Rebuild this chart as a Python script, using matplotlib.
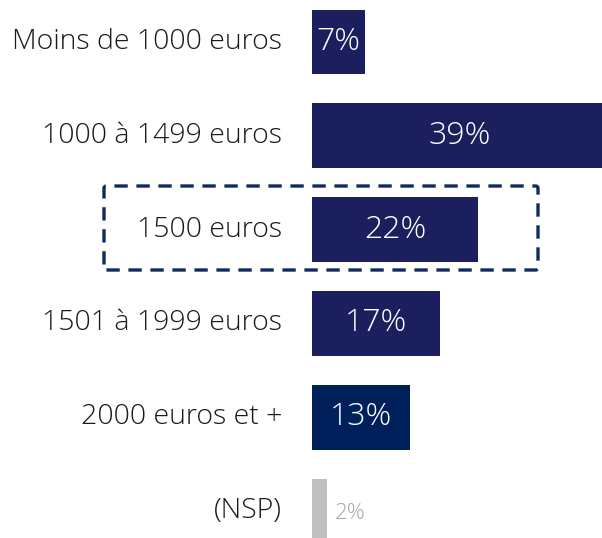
import matplotlib.pyplot as plt
from matplotlib.patches import FancyBboxPatch

# Data
categories = ["Moins de 1000 euros", "1000 à 1499 euros", "1500 euros",
              "1501 à 1999 euros", "2000 euros et +", "(NSP)"]
values = [7, 39, 22, 17, 13, 2]
bar_colors = ["#1B1F5E", "#1B1F5E", "#1B1F5E", "#1B1F5E", "#00205B", "#BFBFBF"]

plt.rcParams["font.family"] = ["Open Sans", "DejaVu Sans"]

W, H = 602, 538
fig = plt.figure(figsize=(W / 100, H / 100), dpi=100)
ax = fig.add_axes([312 / W, 0, 1 - 312 / W, 1])

y = list(range(len(categories)))
ax.barh(y, values, height=0.69, color=bar_colors)
ax.set_xlim(0, 38.4)
ax.set_ylim(5.287, -0.447)
ax.axis("off")

# Value labels
for i, v in enumerate(values):
    if v >= 5:
        ax.text(v / 2, i, f"{v}%", color="white", fontsize=23, fontweight="light",
                ha="center", va="center")
    else:
        ax.text(v + 1.0, i + 0.03, f"{v}%", color="#A6A6A6", fontsize=16,
                fontweight="light", ha="left", va="center")

# Category labels
for i, c in enumerate(categories):
    ax.annotate(c, xy=(0, i), xycoords="data", xytext=(-30, 0),
                textcoords="offset pixels", ha="right", va="center",
                fontsize=20.5, fontweight="light", color="#1A1A1A")

# Dashed highlight box around "1500 euros"
box = FancyBboxPatch((104 / W, 1 - 270 / H), (538 - 104) / W, (270 - 186) / H,
                     boxstyle="round,pad=0,rounding_size=0.004",
                     transform=fig.transFigure, fill=False,
                     edgecolor="#0F2A5E", linewidth=2.4, linestyle=(0, (4, 2.6)))
fig.add_artist(box)

fig.savefig("out.png", dpi=100)
